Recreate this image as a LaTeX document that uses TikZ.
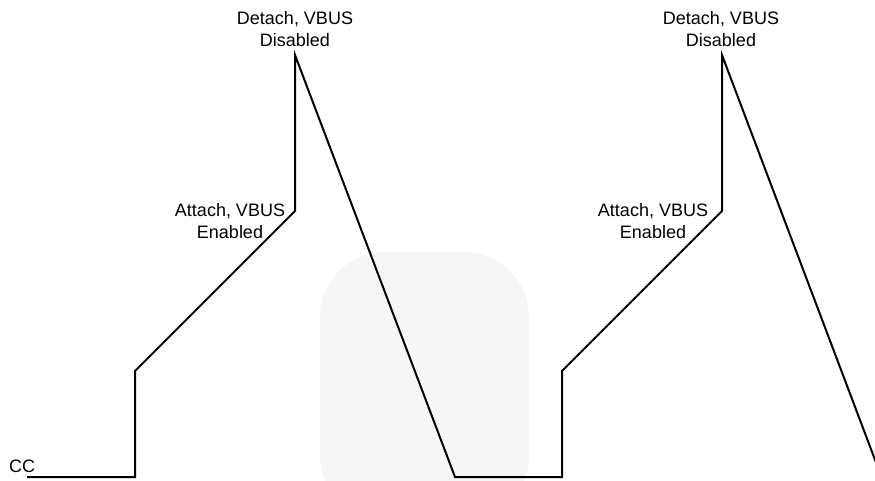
\documentclass[tikz,border=0pt]{standalone}
\usepackage{fontspec}
\setmainfont{Liberation Sans}
\definecolor{wm}{RGB}{246,246,246}
\begin{document}
\begin{tikzpicture}[x=1pt,y=-1pt,
  wave/.style={line width=2pt,line join=miter,black},
  lbl/.style={align=center,inner sep=0pt,font=\fontsize{18}{21.5}\selectfont},
  mark/.style={wm}]
\useasboundingbox (0,0) rectangle (875,481);
\begin{scope}
\clip (0,0) rectangle (875,481);
\fill[wm,rounded corners=65pt] (320,520) -- (320,252) -- (529,252) -- (529,520) -- cycle;
\coordinate (p0) at (27,477);
\coordinate (p1) at (135,477);
\coordinate (p2) at (135,371);
\coordinate (p3) at (295,211);
\coordinate (p4) at (295,55);
\coordinate (p5) at (455,477);
\coordinate (p6) at (562,477);
\coordinate (p7) at (562,371);
\coordinate (p8) at (722,211);
\coordinate (p9) at (722,55);
\coordinate (p10) at (880,473);
\draw[wave] (p0) -- (p1) -- (p2) -- (p3) -- (p4) -- (p5) -- (p6) -- (p7) -- (p8) -- (p9) -- (p10);
\end{scope}
\node[lbl,anchor=base west] (cc) at (9,472) {CC};
\node[lbl] (det1) at (295,29) {Detach, VBUS\\Disabled};
\node[lbl] (att1) at (230,221) {Attach, VBUS\\Enabled};
\node[lbl] (det2) at (721,29) {Detach, VBUS\\Disabled};
\node[lbl] (att2) at (653,221) {Attach, VBUS\\Enabled};
\end{tikzpicture}
\end{document}
